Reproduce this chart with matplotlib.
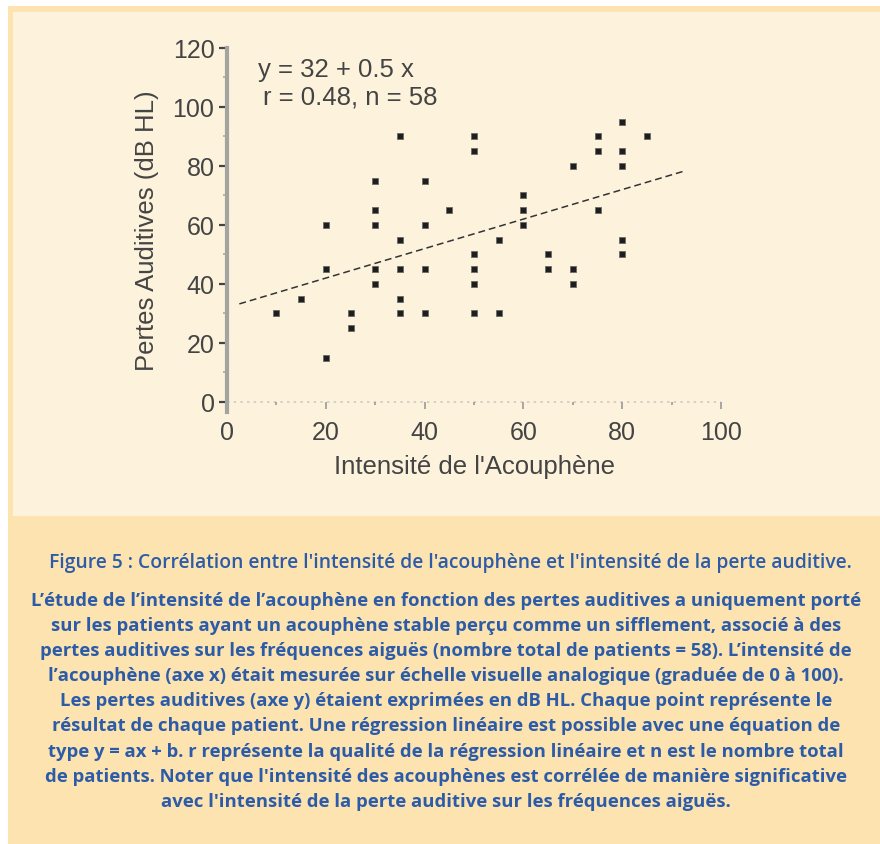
import matplotlib
matplotlib.use('Agg')
from matplotlib import pyplot as plt
from matplotlib.patches import Rectangle
from matplotlib.ticker import MultipleLocator

# Intensité de l'acouphène (x) et pertes auditives en dB HL (y), un point par patient
intensite = [10, 15, 20, 20, 20, 25, 25, 30, 30, 30, 30, 30, 35, 35, 35, 35, 35,
             40, 40, 40, 40, 45, 50, 50, 50, 50, 50, 50, 55, 55, 60, 60, 60,
             65, 65, 70, 70, 70, 75, 75, 75, 80, 80, 80, 80, 80, 85]
pertes = [30, 35, 60, 45, 15, 30, 25, 75, 65, 60, 45, 40, 90, 55, 45, 35, 30,
          75, 60, 45, 30, 65, 90, 85, 50, 45, 40, 30, 55, 30, 70, 65, 60,
          50, 45, 80, 45, 40, 90, 85, 65, 95, 85, 80, 55, 50, 90]

# Régression linéaire y = a + b x
a, b = 32, 0.5
r, n = 0.48, 58
x_reg = [2.5, 92.5]

caption = [
    "Figure 5 : Corrélation entre l'intensité de l'acouphène et l'intensité de la perte auditive.",
    "L’étude de l’intensité de l’acouphène en fonction des pertes auditives a uniquement porté",
    "sur les patients ayant un acouphène stable perçu comme un sifflement, associé à des",
    "pertes auditives sur les fréquences aiguës (nombre total de patients = 58). L’intensité de",
    "l’acouphène (axe x) était mesurée sur échelle visuelle analogique (graduée de 0 à 100).",
    "Les pertes auditives (axe y) étaient exprimées en dB HL. Chaque point représente le",
    "résultat de chaque patient. Une régression linéaire est possible avec une équation de",
    "type y = ax + b. r représente la qualité de la régression linéaire et n est le nombre total",
    "de patients. Noter que l'intensité des acouphènes est corrélée de manière significative",
    "avec l'intensité de la perte auditive sur les fréquences aiguës.",
]

W, H = 880, 845
fig = plt.figure(figsize=(W / 100, H / 100), dpi=100, facecolor='white')

# fond orangé + panneau crème du graphique
fig.patches.append(Rectangle((8 / W, 0), 1, (H - 7) / H, transform=fig.transFigure,
                             facecolor='#fde3af', edgecolor='none', zorder=-2))
fig.patches.append(Rectangle((13 / W, (H - 517) / H), 1, (517 - 13) / H, transform=fig.transFigure,
                             facecolor='#fdf3dd', edgecolor='none', zorder=-1))

ink = '#444444'
font = 'Liberation Sans'

ax = fig.add_axes([227 / W, (H - 413) / H, (721 - 227) / W, (413 - 49) / H])
ax.set_facecolor('none')
ax.set_xlim(0, 100)
ax.set_ylim(-3.4, 120)

ax.plot(intensite, pertes, 's', color='#1e1e1e', markersize=4.6, markeredgewidth=0.6,
        markeredgecolor='#6a6a66', zorder=3)
ax.plot(x_reg, [a + b * x for x in x_reg], color='#333333', lw=1.1, dashes=(4.5, 2.6))

# axe x en pointillés
ax.axhline(0, color='#cfcbc0', lw=1.2, ls=(0, (1.5, 2.5)), zorder=1)

for s in ['top', 'right', 'bottom']:
    ax.spines[s].set_visible(False)
ax.spines['left'].set_color('#a3a3a0')
ax.spines['left'].set_linewidth(3)
ax.spines['bottom'].set_position(('data', 0))

ax.xaxis.set_major_locator(MultipleLocator(20))
ax.xaxis.set_minor_locator(MultipleLocator(10))
ax.yaxis.set_major_locator(MultipleLocator(20))
ax.yaxis.set_minor_locator(MultipleLocator(10))
ax.tick_params(axis='x', which='major', length=5, width=1.2, color='#9a9a9a', pad=8,
               labelsize=18, labelcolor=ink)
ax.tick_params(axis='x', which='minor', length=2, width=1.2, color='#9a9a9a')
ax.tick_params(axis='y', which='major', length=6, width=1.6, color='#444444', pad=3,
               labelsize=18, labelcolor=ink)
ax.tick_params(axis='y', which='minor', length=3, width=1.2, color='#aaaaaa')
for lab in ax.get_xticklabels() + ax.get_yticklabels():
    lab.set_family(font)

ax.set_xlabel("Intensité de l'Acouphène", fontsize=18.5, color=ink, family=font, labelpad=7)
ax.set_ylabel("Pertes Auditives (dB HL)", fontsize=18.5, color=ink, family=font, labelpad=10)

ax.text(6.3, 113, f"y = {a} + {b} x", fontsize=18.5, color=ink, family=font, va='center')
ax.text(7.2, 103.5, f"r = {r}, n = {n}", fontsize=18.5, color=ink, family=font, va='center')

# légende de la figure
blue = '#2c5ca8'
fig.text(450 / W, 1 - 563 / H, caption[0], ha='center', va='center', fontsize=13.9,
         color=blue, family='Open Sans', weight='semibold')
for i, line in enumerate(caption[1:]):
    y = 601 + i * 25.1
    fig.text(446 / W, 1 - y / H, line, ha='center', va='center', fontsize=13.3,
             color=blue, family='Open Sans', weight='bold')

fig.savefig('out.png', dpi=100, facecolor=fig.get_facecolor())
